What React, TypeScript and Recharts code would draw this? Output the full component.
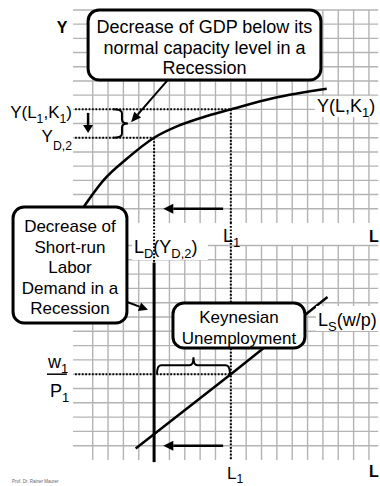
import {
  ComposedChart,
  Line,
  ReferenceArea,
  ReferenceDot,
  ReferenceLine,
  XAxis,
  YAxis,
} from "recharts";

const FONT = '"Liberation Sans", Arial, Helvetica, sans-serif';

// grid cells: labour units across, output / real-wage units up
const gridCols = [1, 2, 3, 4, 5, 6, 7, 8, 9, 10, 11, 12, 13, 14, 15, 16, 17, 18, 19];
const gridRows = [1, 2, 3, 4, 5, 6, 7, 8, 9, 10, 11, 12, 13, 14, 15];

// short-run production function Y(L, K1), upper panel
const prodLabor = [0.3, 1.7, 3.2, 5, 6.6, 8.5, 10, 12.8, 16.25];
const prodOutput = [0.95, 3.0, 4.5, 6, 6.85, 7.55, 8, 8.8, 9.45];

// labour supply Ls(w/p), lower panel
const supplyLabor = [3.8, 10, 16.3];
const supplyWage = [0.8, 6, 11.4];

const L1 = 10; // normal employment
const LD = 5; // labour demand in the recession
const Y1 = 8; // Y(L1, K1)
const YD2 = 6; // Y_D,2
const W1 = 6; // w1 / P1
const PANEL_JOIN = 16.6; // lower-panel value level with the upper panel's L axis
const LD_TOP = 13.8; // where the solid L_D line starts

const gdpNote = ["Decrease of GDP below its", "normal capacity level in a", "Recession"];
const demandNote = ["Decrease of", "Short-run", "Labor", "Demand in a", "Recession"];
const unemploymentNote = ["Keynesian", "Unemployment"];

const prodData = prodLabor.map((L, i) => ({ L, Y: prodOutput[i] }));
const supplyData = supplyLabor.map((L, i) => ({ L, W: supplyWage[i] }));

type Part = [string, boolean?];

function RichText({ x, y, parts, size, anchor = "start", bold = false, sub = 0.3, fill = "#000" }: any) {
  let down = false;
  return (
    <text x={x} y={y} fontSize={size} fontFamily={FONT} fontWeight={bold ? 700 : 400} textAnchor={anchor} fill={fill}>
      {parts.map(([t, s]: Part, i: number) => {
        const dy = s && !down ? size * sub : !s && down ? -size * sub : 0;
        down = !!s;
        return (
          <tspan key={i} dy={dy} fontSize={s ? size * 0.72 : size}>
            {t}
          </tspan>
        );
      })}
    </text>
  );
}

const textShape = (parts: Part[], size: number, opts: any = {}) => (p: any) => (
  <g>
    {opts.bg && (
      <rect x={p.cx + opts.bg[0]} y={p.cy + opts.bg[1]} width={opts.bg[2]} height={opts.bg[3]} fill="#fff" />
    )}
    <RichText x={p.cx} y={p.cy} parts={parts} size={size} {...opts} />
  </g>
);

const noteShape = (lines: string[], size: number) => (p: any) => {
  const { x, y, width, height } = p;
  const lh = 20.4;
  const first = y + height / 2 + size * 0.48 - ((lines.length - 1) * lh) / 2;
  return (
    <g>
      <rect x={x} y={y} width={width} height={height} rx={11} ry={11} fill="#fff" stroke="#000" strokeWidth={3} />
      {lines.map((t, i) => (
        <text key={i} x={x + width / 2} y={first + i * lh} textAnchor="middle" fontSize={size} fontFamily={FONT} fill="#000">
          {t}
        </text>
      ))}
    </g>
  );
};

const arrowShape = (head: number, half: number, sw: number) => (p: any) => {
  const { x1, y1, x2, y2 } = p;
  const a = Math.atan2(y2 - y1, x2 - x1);
  const bx = x2 - head * Math.cos(a);
  const by = y2 - head * Math.sin(a);
  const nx = -Math.sin(a) * half;
  const ny = Math.cos(a) * half;
  return (
    <g>
      <line x1={x1} y1={y1} x2={bx} y2={by} stroke="#000" strokeWidth={sw} />
      <polygon points={`${x2},${y2} ${bx + nx},${by + ny} ${bx - nx},${by - ny}`} fill="#000" />
    </g>
  );
};

// curly brace between the two segment ends, bulging to the left-hand normal
const braceShape = (w: number, t: number) => (p: any) => {
  const { x1, y1, x2, y2 } = p;
  const len = Math.hypot(x2 - x1, y2 - y1);
  const ux = (x2 - x1) / len;
  const uy = (y2 - y1) / len;
  const nx = uy;
  const ny = -ux;
  const P = (s: number, n: number) => `${x1 + ux * s + nx * n} ${y1 + uy * s + ny * n}`;
  const r = Math.min(4, len / 4);
  const m = len / 2;
  const d = `M ${P(0, 0)} Q ${P(0, w)} ${P(r, w)} L ${P(m - r, w)} Q ${P(m, w)} ${P(m, w + t)} Q ${P(m, w)} ${P(m + r, w)} L ${P(len - r, w)} Q ${P(len, w)} ${P(len, 0)}`;
  return <path d={d} fill="none" stroke="#000" strokeWidth={2} />;
};

const GRID = "#b3b3b3";
const DOT = "1.7 1.7";

export default function App() {
  return (
    <div style={{ position: "absolute", left: 0, top: 0, width: 380, height: 486, background: "#fff" }}>
      <ComposedChart width={380} height={486} margin={{ top: 0, right: 0, bottom: 0, left: 0 }}>
        <XAxis type="number" dataKey="L" domain={[-5.04, 19.72]} allowDataOverflow hide />
        <YAxis yAxisId="top" type="number" domain={[-18.52, 15.7]} allowDataOverflow hide />
        <YAxis yAxisId="bot" type="number" domain={[-1.82, 32.17]} allowDataOverflow hide />

        {/* grid, both panels */}
        {["top", "bot"].map((id) =>
          gridCols.map((c) => (
            <ReferenceLine key={`v${id}${c}`} yAxisId={id} segment={[{ x: c, y: 0 }, { x: c, y: 15 }]} stroke={GRID} strokeWidth={1.4} zIndex={-50} />
          ))
        )}
        {["top", "bot"].map((id) =>
          gridRows.map((r) => (
            <ReferenceLine key={`h${id}${r}`} yAxisId={id} segment={[{ x: -0.28, y: r }, { x: 19.6, y: r }]} stroke={GRID} strokeWidth={1.4} zIndex={-50} />
          ))
        )}

        <Line data={prodData} dataKey="Y" yAxisId="top" type="monotone" stroke="#000" strokeWidth={2.5} dot={false} activeDot={false} isAnimationActive={false} />
        <Line data={supplyData} dataKey="W" yAxisId="bot" type="linear" stroke="#000" strokeWidth={2.5} dot={false} activeDot={false} isAnimationActive={false} />

        {/* dotted guides */}
        <ReferenceLine yAxisId="top" segment={[{ x: -0.15, y: Y1 }, { x: L1, y: Y1 }]} stroke="#000" strokeWidth={2} strokeDasharray={DOT} zIndex={450} />
        <ReferenceLine yAxisId="top" segment={[{ x: -0.15, y: YD2 }, { x: LD, y: YD2 }]} stroke="#000" strokeWidth={2} strokeDasharray={DOT} zIndex={450} />
        <ReferenceLine yAxisId="top" segment={[{ x: L1, y: Y1 }, { x: L1, y: 0 }]} stroke="#000" strokeWidth={2} strokeDasharray={DOT} zIndex={450} />
        <ReferenceLine yAxisId="bot" segment={[{ x: L1, y: PANEL_JOIN }, { x: L1, y: 0 }]} stroke="#000" strokeWidth={2} strokeDasharray={DOT} zIndex={450} />
        <ReferenceLine yAxisId="top" segment={[{ x: LD, y: YD2 }, { x: LD, y: 0 }]} stroke="#000" strokeWidth={2} strokeDasharray={DOT} zIndex={450} />
        <ReferenceLine yAxisId="bot" segment={[{ x: LD, y: PANEL_JOIN }, { x: LD, y: LD_TOP }]} stroke="#000" strokeWidth={2} strokeDasharray={DOT} zIndex={450} />
        <ReferenceLine yAxisId="bot" segment={[{ x: -0.15, y: W1 }, { x: L1, y: W1 }]} stroke="#000" strokeWidth={2} strokeDasharray={DOT} zIndex={450} />

        {/* short-run labour demand in the recession */}
        <ReferenceLine yAxisId="bot" segment={[{ x: LD, y: LD_TOP }, { x: LD, y: -0.15 }]} stroke="#000" strokeWidth={3} zIndex={450} />

        {/* fraction bar of w1/P1 */}
        <ReferenceLine yAxisId="bot" segment={[{ x: -1.98, y: W1 }, { x: -0.68, y: W1 }]} stroke="#000" strokeWidth={1.5} zIndex={450} />

        {/* labels */}
        <ReferenceDot yAxisId="top" x={-1.0} y={13.35} r={0} zIndex={420} shape={textShape([["Y"]], 16, { anchor: "middle", bold: true })} />
        <ReferenceDot yAxisId="top" x={-0.35} y={7.39} r={0} zIndex={420} shape={textShape([["Y(L"], ["1", true], [",K"], ["1", true], [")"]], 17, { anchor: "end" })} />
        <ReferenceDot yAxisId="top" x={-0.35} y={5.7} r={0} zIndex={420} shape={textShape([["Y"], ["D,2", true]], 17, { anchor: "end", sub: 0.45 })} />
        <ReferenceDot yAxisId="top" x={15.61} y={7.82} r={0} zIndex={420} shape={textShape([["Y(L,K"], ["1", true], [")"]], 18, { bg: [-2, -16, 65, 21] })} />
        <ReferenceDot yAxisId="top" x={9.49} y={-1.34} r={0} zIndex={420} shape={textShape([["L"], ["1", true]], 18)} />
        <ReferenceDot yAxisId="top" x={19.0} y={-1.34} r={0} zIndex={420} shape={textShape([["L"]], 16, { bold: true })} />
        <ReferenceDot yAxisId="bot" x={3.69} y={14.48} r={0} zIndex={420} shape={textShape([["L"], ["D", true], ["(Y"], ["D,2", true], [")"]], 18, { bg: [-2, -15, 76, 22] })} />
        <ReferenceDot yAxisId="bot" x={15.68} y={9.37} r={0} zIndex={420} shape={textShape([["L"], ["S", true], ["(w/p)"]], 18, { bg: [-2, -20, 64, 25] })} />
        <ReferenceDot yAxisId="bot" x={-1.91} y={6.43} r={0} zIndex={420} shape={textShape([["w"], ["1", true]], 18)} />
        <ReferenceDot yAxisId="bot" x={-1.78} y={4.41} r={0} zIndex={420} shape={textShape([["P"], ["1", true]], 18)} />
        <ReferenceDot yAxisId="bot" x={9.75} y={-1.35} r={0} zIndex={420} shape={textShape([["L"], ["1", true]], 17, { sub: 0.22 })} />
        <ReferenceDot yAxisId="bot" x={19.0} y={-1.19} r={0} zIndex={420} shape={textShape([["L"]], 16, { bold: true })} />
        <ReferenceDot yAxisId="bot" x={-4.26} y={-1.62} r={0} zIndex={420} shape={textShape([["Prof. Dr. Rainer Maurer"]], 4.5, { fill: "#666" })} />

        {/* annotation boxes */}
        <ReferenceArea yAxisId="top" x1={0.7} x2={15.87} y1={10.07} y2={15.0} zIndex={1600} shape={noteShape(gdpNote, 18)} />
        <ReferenceArea yAxisId="bot" x1={-4.19} x2={3.23} y1={9.58} y2={17.69} zIndex={1600} shape={noteShape(demandNote, 17)} />
        <ReferenceArea yAxisId="bot" x1={6.23} x2={14.83} y1={7.83} y2={10.98} zIndex={1600} shape={noteShape(unemploymentNote, 17)} />

        {/* braces and arrows */}
        <ReferenceLine yAxisId="top" segment={[{ x: 2.32, y: Y1 }, { x: 2.32, y: YD2 }]} zIndex={1700} shape={braceShape(9, 6)} />
        <ReferenceLine yAxisId="bot" segment={[{ x: 5.19, y: W1 }, { x: 9.94, y: W1 }]} zIndex={1700} shape={braceShape(9, 8)} />
        <ReferenceLine yAxisId="top" segment={[{ x: 5.9, y: 10.07 }, { x: 3.5, y: 7.1 }]} zIndex={1700} shape={arrowShape(10, 4.5, 2)} />
        <ReferenceLine yAxisId="bot" segment={[{ x: 3.24, y: 11.05 }, { x: 4.6, y: 10.5 }]} zIndex={1700} shape={arrowShape(9, 4.5, 2)} />
        <ReferenceLine yAxisId="top" segment={[{ x: 0.7, y: 7.75 }, { x: 0.7, y: 6.34 }]} zIndex={1700} shape={arrowShape(8, 5, 2.5)} />
        <ReferenceLine yAxisId="top" segment={[{ x: 9.5, y: 1 }, { x: 5.6, y: 1 }]} zIndex={1700} shape={arrowShape(10, 5, 2.5)} />
        <ReferenceLine yAxisId="bot" segment={[{ x: 9.5, y: 1 }, { x: 5.6, y: 1 }]} zIndex={1700} shape={arrowShape(10, 5, 2.5)} />
      </ComposedChart>
    </div>
  );
}
